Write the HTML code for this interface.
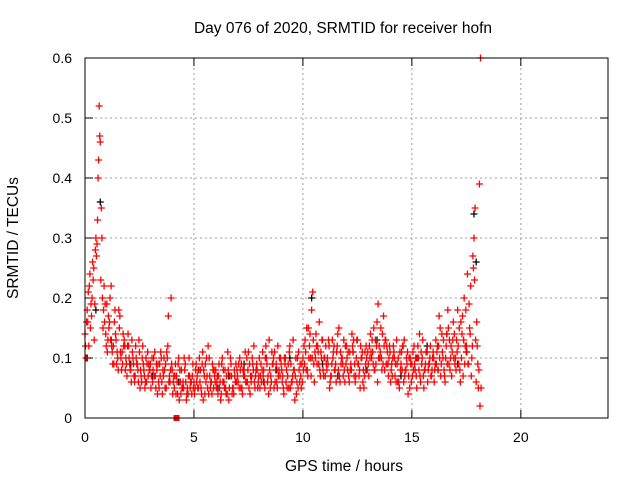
<!DOCTYPE html>
<html><head><meta charset="utf-8"><style>
body{margin:0;background:#fff}
svg{display:block;font-family:"Liberation Sans",sans-serif}
</style></head><body>
<svg id="chart" width="640" height="480" xmlns="http://www.w3.org/2000/svg">
<rect width="640" height="480" fill="#fff"/>
<text x="343" y="33" font-size="15.5" text-anchor="middle">Day 076 of 2020, SRMTID for receiver hofn</text>
<text x="344" y="471" font-size="15.5" text-anchor="middle">GPS time / hours</text>
<text transform="translate(18,238) rotate(-90)" font-size="15.5" text-anchor="middle">SRMTID / TECUs</text>
<g id="grid"></g>
<g id="ticks"></g>
<g id="points"></g>
<rect x="85" y="58" width="523" height="360" fill="none" stroke="#000" stroke-width="1"/>
</svg>
<script>
const xTicks=[0,5,10,15,20];
const yTicks=[0,0.1,0.2,0.3,0.4,0.5,0.6];
const yTickLabels=["0","0.1","0.2","0.3","0.4","0.5","0.6"];
const seriesA=[.14,.18,.22,.17,.25,.30,.40,.46,.20,.16,.19,.15,.22,.12,.14,.10,.17,.11,.13,.09,.12,.08,.10,.07,.09,.11,.06,.08,.10,.07,.09,.06,.11,.08,.05,.10,.07,.09,.12,.06,.08,.05,.07,.10,.04,.06,.09,.05,.07,.04,.06,.09,.05,.08,.11,.04,.07,.10,.06,.05,.08,.04,.06,.10,.05,.07,.03,.09,.05,.06,.07,.10,.05,.08,.06,.11,.07,.09,.05,.08,.10,.06,.08,.12,.07,.05,.09,.11,.06,.08,.09,.05,.10,.07,.12,.06,.08,.04,.11,.07,.10,.13,.08,.12,.18,.09,.14,.11,.07,.13,.10,.08,.12,.07,.11,.09,.14,.06,.10,.08,.12,.07,.09,.11,.06,.13,.08,.10,.05,.12,.09,.14,.11,.08,.16,.12,.10,.17,.13,.09,.11,.07,.10,.13,.06,.09,.12,.08,.11,.05,.09,.12,.07,.10,.06,.13,.08,.11,.09,.07,.10,.13,.08,.15,.11,.07,.14,.09,.12,.16,.10,.18,.08,.14,.20,.12,.09,.22,.27,.35,.12,.39];
const seriesB=[.10,.21,.15,.26,.19,.29,.52,.35,.18,.14,.13,.20,.11,.16,.09,.18,.10,.14,.08,.12,.09,.13,.07,.10,.06,.08,.12,.05,.09,.08,.07,.10,.05,.09,.07,.04,.08,.11,.06,.20,.06,.09,.04,.08,.05,.10,.03,.07,.06,.09,.05,.07,.10,.04,.08,.06,.12,.05,.09,.07,.06,.09,.04,.08,.05,.11,.07,.04,.08,.06,.09,.05,.08,.11,.06,.09,.07,.12,.08,.06,.07,.11,.05,.09,.13,.06,.10,.08,.12,.07,.06,.10,.08,.05,.09,.13,.07,.10,.06,.09,.12,.08,.15,.10,.21,.11,.09,.16,.10,.07,.12,.09,.06,.13,.08,.11,.15,.09,.07,.12,.08,.11,.14,.07,.10,.09,.12,.06,.11,.08,.12,.10,.15,.09,.19,.11,.14,.08,.12,.10,.08,.12,.09,.06,.11,.08,.13,.10,.07,.09,.11,.08,.10,.14,.09,.05,.11,.08,.12,.10,.08,.11,.17,.09,.13,.10,.18,.08,.11,.14,.13,.09,.16,.07,.12,.24,.15,.10,.30,.06,.05,.60];
const seriesC=[.12,.16,.24,.20,.13,.27,.43,.23,.15,.19,.11,.16,.12,.09,.13,.08,.11,.09,.12,.07,.10,.06,.09,.12,.08,.05,.10,.07,.06,.09,.05,.08,.07,.04,.09,.06,.10,.05,.17,.08,.04,.07,.06,.03,.08,.05,.06,.04,.05,.07,.04,.06,.08,.05,.03,.09,.05,.07,.04,.08,.05,.07,.03,.06,.08,.04,.05,.07,.04,.09,.06,.08,.04,.07,.10,.05,.06,.08,.07,.05,.05,.08,.06,.10,.04,.07,.09,.06,.05,.10,.08,.04,.06,.09,.05,.07,.03,.06,.08,.05,.08,.11,.07,.14,.10,.06,.12,.09,.11,.08,.07,.10,.05,.09,.12,.06,.08,.11,.09,.06,.10,.06,.08,.13,.07,.09,.05,.11,.07,.10,.07,.11,.09,.13,.06,.10,.08,.12,.09,.07,.06,.10,.07,.09,.05,.11,.06,.08,.04,.10,.07,.09,.05,.08,.11,.07,.09,.06,.10,.08,.06,.09,.12,.07,.10,.06,.09,.13,.07,.10,.08,.12,.06,.17,.09,.11,.19,.07,.25,.13,.09,.02];
const seriesD=[.16,.12,.19,.23,.28,.33,.47,.30,.22,.12,.17,.13,.09,.18,.11,.15,.08,.12,.10,.14,.08,.11,.06,.09,.13,.07,.09,.06,.11,.08,.10,.07,.09,.06,.11,.08,.05,.10,.07,.09,.07,.04,.09,.06,.05,.08,.04,.10,.06,.05,.08,.05,.06,.09,.07,.10,.04,.06,.08,.06,.07,.05,.09,.06,.04,.08,.10,.05,.07,.08,.05,.09,.07,.06,.08,.04,.10,.06,.09,.07,.09,.07,.10,.06,.08,.11,.05,.09,.07,.10,.07,.09,.05,.11,.06,.08,.10,.05,.09,.06,.09,.15,.10,.07,.13,.10,.12,.08,.13,.10,.09,.13,.07,.10,.08,.12,.07,.10,.13,.09,.11,.08,.12,.09,.13,.07,.10,.08,.09,.11,.10,.13,.08,.12,.10,.15,.09,.13,.11,.12,.09,.11,.06,.10,.08,.12,.07,.09,.10,.06,.08,.10,.12,.07,.10,.08,.11,.09,.07,.11,.09,.12,.10,.14,.08,.12,.15,.10,.13,.09,.11,.15,.10,.13,.18,.09,.14,.12,.23,.16,.08,.05];
const blackVals=[.10,.18,.36,.13,.09,.07,.06,.08,.05,.07,.09,.06,.08,.10,.20,.09,.07,.11,.08,.13,.09,.07,.10,.12,.08,.14,.09,.11,.34,.26];
const blackTimes=[0.1,0.5,0.7,1.2,2.1,3.1,4.3,5.2,6.1,6.6,7.3,8.2,8.8,9.4,10.4,10.9,11.6,12.3,12.9,13.4,13.9,14.5,15.2,15.7,16.2,16.6,17.1,17.5,17.85,17.95];
const sx=h=>85+h*(523/24), sy=v=>418-v*600;
const NS="http://www.w3.org/2000/svg";
const grid=document.getElementById('grid'),ticks=document.getElementById('ticks'),pts=document.getElementById('points');
function line(p,x1,y1,x2,y2,st,dash){const l=document.createElementNS(NS,'line');l.setAttribute('x1',x1);l.setAttribute('y1',y1);l.setAttribute('x2',x2);l.setAttribute('y2',y2);l.setAttribute('stroke',st);if(dash)l.setAttribute('stroke-dasharray',dash);p.appendChild(l);return l;}
function txt(p,x,y,s,anc){const t=document.createElementNS(NS,'text');t.setAttribute('x',x);t.setAttribute('y',y);t.setAttribute('font-size','14');t.setAttribute('text-anchor',anc);t.textContent=s;p.appendChild(t);return t;}
xTicks.forEach(v=>{const x=sx(v);
if(v>0){const g=line(grid,x,58,x,418,'#a0a0a0','2,3');

}
line(ticks,x,418,x,410,'#000');line(ticks,x,58,x,66,'#000');
const t=txt(ticks,x,442,String(v),'middle');

});
yTicks.forEach((v,i)=>{const y=sy(v);
if(v>0&&v<0.6){const g=line(grid,85,y,608,y,'#a0a0a0','2,3');

}
line(ticks,85,y,93,y,'#000');line(ticks,608,y,600,y,'#000');
const t=txt(ticks,72,y+5,yTickLabels[i],'end');

});
function plus(x,y,c){const p=document.createElementNS(NS,'path');p.setAttribute('d',`M${x-3.5} ${y}H${x+3.5}M${x} ${y-3.5}V${y+3.5}`);p.setAttribute('stroke',c);p.setAttribute('stroke-width','1.3');p.setAttribute('fill','none');pts.appendChild(p);return p;}
blackTimes.forEach((t,i)=>{const p=plus(sx(t),sy(blackVals[i]),'#000');

});
[[seriesA,0],[seriesB,0.05],[seriesC,0.025],[seriesD,0.075]].forEach(([arr,off])=>{arr.forEach((v,i)=>{const p=plus(sx(i*0.1+off),sy(v),'#f00');

});});
const sq=document.createElementNS(NS,'rect');sq.setAttribute('x',sx(4.2)-3);sq.setAttribute('y',415);sq.setAttribute('width',6);sq.setAttribute('height',6);sq.setAttribute('fill','#f00');


pts.appendChild(sq);
</script>
</body></html>
